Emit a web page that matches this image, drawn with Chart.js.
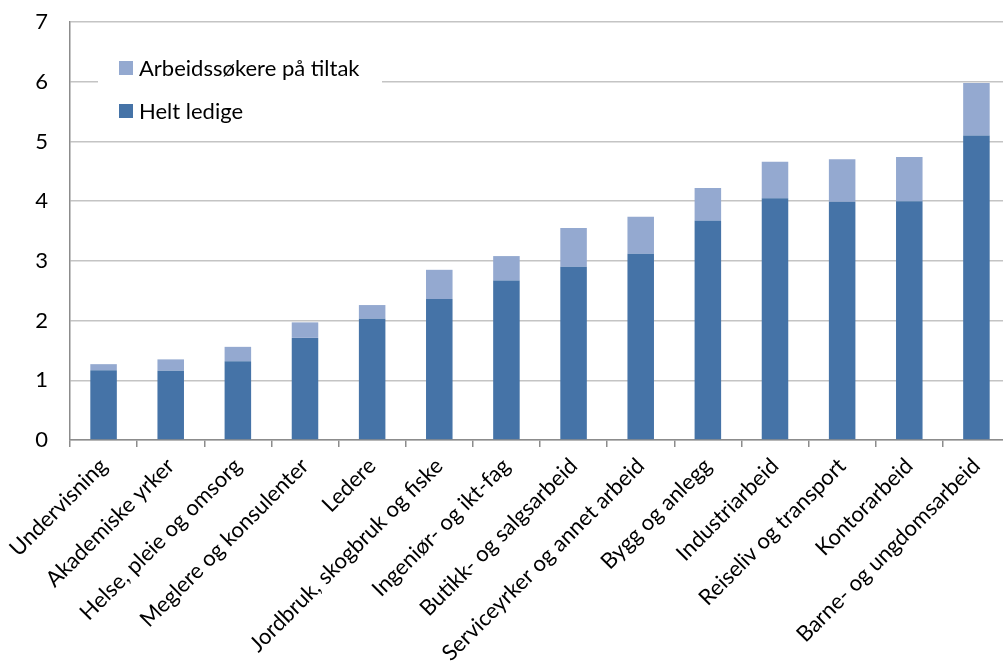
<!DOCTYPE html>
<html>
<head>
<meta charset="utf-8">
<script src="https://cdn.jsdelivr.net/npm/chart.js@4"></script>
<style>
html,body{margin:0;padding:0;background:#fff;overflow:hidden;}
#wrap{position:relative;width:1010px;height:670px;}
</style>
</head>
<body>
<div id="wrap"><canvas id="c"></canvas></div>
<script>
const categories = ["Undervisning","Akademiske yrker","Helse, pleie og omsorg","Meglere og konsulenter","Ledere","Jordbruk, skogbruk og fiske","Ingeniør- og ikt-fag","Butikk- og salgsarbeid","Serviceyrker og annet arbeid","Bygg og anlegg","Industriarbeid","Reiseliv og transport","Kontorarbeid","Barne- og ungdomsarbeid"];
const heltLedige = [1.17,1.16,1.32,1.71,2.03,2.36,2.67,2.90,3.12,3.67,4.05,3.99,4.00,5.10];
const paaTiltak = [0.10,0.19,0.24,0.26,0.23,0.49,0.41,0.65,0.62,0.55,0.61,0.71,0.74,0.88];
const yTicks = [0,1,2,3,4,5,6,7];

const FONT = "Lato, 'Open Sans', sans-serif";

const insideLegend = {
  id: 'insideLegend',
  afterDraw(chart) {
    const ctx = chart.ctx;
    ctx.save();
    ctx.fillStyle = '#fff';
    ctx.fillRect(98, 40, 284, 92);
    const items = chart.data.datasets.slice().reverse();
    const rows = [68, 111];
    ctx.font = "22px " + FONT;
    ctx.textBaseline = 'middle';
    ctx.textAlign = 'left';
    items.forEach((ds, i) => {
      ctx.fillStyle = ds.backgroundColor;
      ctx.fillRect(119, rows[i] - 7, 14, 14);
      ctx.fillStyle = '#000';
      ctx.fillText(ds.label, 139, rows[i] + 1);
    });
    ctx.restore();
  }
};

new Chart(document.getElementById('c'), {
  type: 'bar',
  data: {
    labels: categories,
    datasets: [
      { label: 'Helt ledige', data: heltLedige, backgroundColor: '#4573a7', borderWidth: 0 },
      { label: 'Arbeidssøkere på tiltak', data: paaTiltak, backgroundColor: '#94a9d0', borderWidth: 0 }
    ]
  },
  options: {
    responsive: true,
    maintainAspectRatio: false,
    animation: false,
    devicePixelRatio: 1,
    layout: { padding: { top: 22, right: 0, left: 0, bottom: 0 } },
    datasets: { bar: { categoryPercentage: 1, barPercentage: 0.395 } },
    plugins: { legend: { display: false }, tooltip: { enabled: false } },
    scales: {
      x: {
        stacked: true,
        afterFit: (s) => { s.height = 230; s.paddingTop = 0; s.paddingBottom = 0; },
        grid: { display: true, drawOnChartArea: false, drawTicks: true, tickLength: 7, color: '#8c8c8c', lineWidth: 1.5, offset: true },
        border: { display: true, color: '#8c8c8c', width: 1.5 },
        ticks: { color: '#000', font: { size: 22, family: FONT }, minRotation: 45, maxRotation: 45, padding: 6, autoSkip: false }
      },
      y: {
        stacked: true,
        min: 0,
        max: 7,
        afterFit: (s) => { s.width = 70; s.paddingTop = 0; s.paddingBottom = 0; },
        afterBuildTicks: (s) => { s.ticks = yTicks.map(v => ({ value: v })); },
        grid: { color: '#c4c4c4', lineWidth: 1.5, drawTicks: false },
        border: { display: true, color: '#8c8c8c', width: 1.5 },
        ticks: { color: '#000', font: { size: 22, family: FONT }, padding: 22 }
      }
    }
  },
  plugins: [insideLegend]
});
</script>
</body>
</html>
